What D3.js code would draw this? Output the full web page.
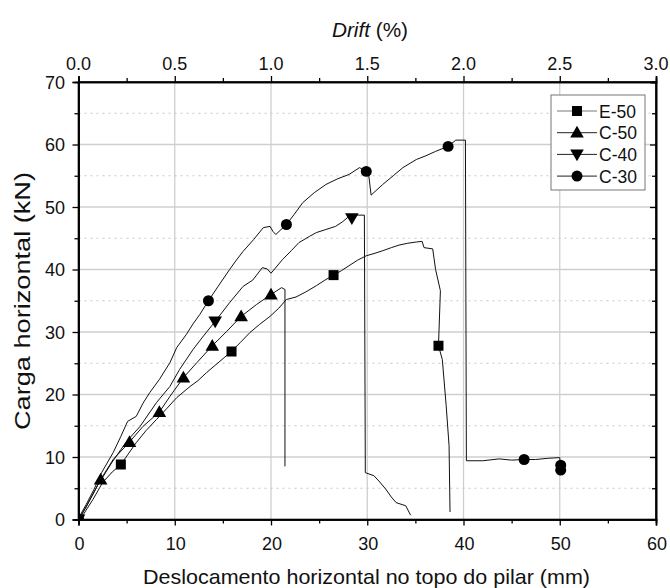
<!DOCTYPE html>
<html><head><meta charset="utf-8">
<script src="https://cdn.jsdelivr.net/npm/d3@7"></script>
<style>body{margin:0;background:#fff;} text{font-family:"Liberation Sans",Arial,sans-serif;}</style>
</head><body><svg id="c" width="670" height="588"></svg>
<script>
// Series data: [displacement mm, load kN]
const e50 = [[0,0],[0.5,0.8],[1.5,3.2],[2.5,5.9],[3.5,7.6],[4.4,8.8],[6,12.3],[7,14.2],[8.1,16],[9.2,17.8],[10.2,19.5],[11.6,21.3],[12.4,22.2],[13.3,23.5],[14.6,25.2],[15.9,26.9],[16.8,28.3],[17.8,29.9],[18.8,31.2],[19.9,32.5],[20.8,33.8],[21.6,35.2],[22.6,35.6],[23.6,36.4],[24.7,37.4],[25.6,38.3],[26.5,39.1],[27.3,39.8],[28.1,40.6],[29,41.5],[29.9,42.2],[30.8,42.6],[31.6,43],[32.5,43.5],[33.3,43.9],[34.2,44.2],[35.1,44.4],[35.7,44.5],[35.9,43.5],[36.8,43.3],[37.1,40],[37.6,36.6],[37.4,27.8],[37.8,25.6],[38.2,18.2],[38.5,11.8],[38.6,1.2]];
const c50 = [[0,0],[0.6,1.5],[1.4,3.8],[2.3,6.4],[3.6,9.6],[5.3,12.4],[6.7,14.9],[8.4,17.2],[9.5,19.7],[10.9,22.7],[12.3,25.1],[13.9,27.8],[15.4,30.1],[16.9,32.5],[18.5,34.4],[20,36],[20.6,36.6],[21.1,37.1],[21.45,36.8],[21.45,8.5]];
const c40 = [[0,0],[0.8,2],[2,5.5],[3.5,9.2],[5,12.5],[6.4,14.9],[8.1,18.7],[9.5,21.3],[10.5,24],[11.9,27.2],[13,29.4],[14.2,31.7],[15.7,34.7],[17.1,37.3],[18.1,38.3],[19.1,40.3],[19.6,40.1],[20,39.4],[21.2,41.6],[22.1,43],[22.9,44.3],[24,45.3],[24.7,45.9],[25.7,46.4],[26.7,46.9],[27.4,47.6],[28.1,48.5],[28.8,48.7],[29.7,48.7],[29.8,7.5],[30.7,7],[31.3,6],[31.9,4.9],[32.5,3.6],[33,2.7],[34,2.2],[34.5,0.7]];
const c30 = [[0,0.2],[0.8,2.4],[1.6,4.8],[2.4,7.5],[3.6,10.7],[4.4,13.3],[5.1,15.7],[6,16.5],[6.7,18.6],[7.4,20.3],[8.4,22.4],[9.5,25.1],[10.2,27.5],[11.2,29.6],[11.9,31.3],[12.6,32.8],[13.5,35],[14.5,37.3],[15.7,40],[16.4,41.5],[17.1,42.9],[18.2,44.8],[19.2,46.7],[19.9,46.9],[20.2,46.1],[20.5,45.6],[21.6,47.2],[22.4,48.8],[23.3,50.7],[24.5,52.3],[25.7,53.6],[26.9,54.5],[28.1,55.2],[29.2,56.3],[29.9,55.7],[30.1,55.8],[30.4,51.9],[31.6,53.6],[32.7,55],[33.7,56.3],[35.1,57.6],[36.1,58.2],[37.1,58.9],[38.4,59.7],[39.2,60.7],[40.2,60.7],[40.3,9.4],[42,9.4],[43.7,9.7],[45,9.5],[46.3,9.6],[47.5,9.6],[48.8,9.8],[50,9.9],[50.1,7.9]];
// marker positions
const e50M = [[0,0],[4.4,8.8],[15.9,26.9],[26.5,39.1],[37.4,27.8]];
const c50M = [[0,0],[2.3,6.4],[5.3,12.4],[8.4,17.2],[10.9,22.7],[13.9,27.8],[16.9,32.5],[20,36]];
const c40M = [[0,0],[14.2,31.7],[28.4,48.2]];
const c30M = [[0,0],[13.5,35],[21.6,47.2],[29.9,55.7],[38.4,59.7],[46.3,9.6],[50.1,8.7],[50.1,7.9]];
const seriesNames = ["E-50","C-50","C-40","C-30"];
const xTicks = [0,10,20,30,40,50,60];
const yTicks = [0,10,20,30,40,50,60,70];
const driftVals = [0,0.5,1,1.5,2,2.5,3];
const driftTicks = ["0.0","0.5","1.0","1.5","2.0","2.5","3.0"];

const svg = d3.select("#c");
const L=78.5,R=656,T=82,B=519.5;
const x = d3.scaleLinear().domain([0,60]).range([L,R]);
const y = d3.scaleLinear().domain([0,70]).range([B,T]);
const xd = d3.scaleLinear().domain([0,3]).range([L,R]);
function label(px,py,txt,size,anchor){
  return svg.append("text").attr("x",px).attr("y",py)
    .attr("text-anchor",anchor).attr("font-size",size).attr("fill","#111").text(txt);
}

// grid
const g = svg.append("g");
[10,20,30,40,50].forEach(v=>g.append("line").attr("x1",x(v)).attr("x2",x(v)).attr("y1",T).attr("y2",B).attr("stroke","#cfcfcf").attr("stroke-width",1.3));
[10,20,30,40,50,60].forEach(v=>g.append("line").attr("x1",L).attr("x2",R).attr("y1",y(v)).attr("y2",y(v)).attr("stroke","#cfcfcf").attr("stroke-width",1.3));
[5,15,25,35,45,55,65].forEach(v=>g.append("line").attr("x1",L).attr("x2",R).attr("y1",y(v)).attr("y2",y(v)).attr("stroke","#c8c8c8").attr("stroke-width",1.2).attr("stroke-dasharray","2,4"));

// clip
svg.append("clipPath").attr("id","clip").append("rect").attr("x",L).attr("y",T).attr("width",R-L).attr("height",B-T);
const plot = svg.append("g").attr("clip-path","url(#clip)");
const line = d3.line().x(d=>x(d[0])).y(d=>y(d[1]));
const data = [e50,c50,c40,c30];
const marks = [e50M,c50M,c40M,c30M];
const syms = [d3.symbolSquare, d3.symbolTriangle, d3.symbolTriangle, d3.symbolCircle];
const sizes = [100,80,80,95];
const rots = [0,0,180,0];
data.forEach((d,i)=>plot.append("path").attr("d",line(d)).attr("fill","none").attr("stroke","#111").attr("stroke-width",1));
marks.forEach((m,i)=>{
  plot.selectAll(null).data(m).enter().append("path")
   .attr("d",d3.symbol().type(syms[i]).size(sizes[i]))
   .attr("transform",d=>`translate(${x(d[0])},${y(d[1])+(i===1?1:(i===2?-1:0))}) rotate(${rots[i]})`)
   .attr("fill","#000");
});

// axes (ticks only; labels drawn separately)
const ax = svg.append("g");
ax.append("g").attr("transform",`translate(0,${B})`).call(d3.axisBottom(x).tickValues(xTicks).tickSize(6).tickFormat(""));
ax.append("g").attr("transform",`translate(0,${B})`).call(d3.axisBottom(x).tickValues([5,15,25,35,45,55]).tickSize(4).tickFormat(""));
ax.append("g").attr("transform",`translate(${L},0)`).call(d3.axisLeft(y).tickValues(yTicks).tickSize(6).tickFormat(""));
ax.append("g").attr("transform",`translate(${L},0)`).call(d3.axisLeft(y).tickValues([5,15,25,35,45,55,65]).tickSize(4).tickFormat(""));
ax.append("g").attr("transform",`translate(0,${T})`).call(d3.axisTop(xd).tickValues(driftVals).tickSize(6).tickFormat(""));
ax.append("g").attr("transform",`translate(0,${T})`).call(d3.axisTop(xd).tickValues([0.25,0.75,1.25,1.75,2.25,2.75]).tickSize(4).tickFormat(""));
ax.append("g").attr("transform",`translate(${R},0)`).call(d3.axisLeft(y).tickValues(yTicks).tickSize(6).tickFormat(""));
ax.append("g").attr("transform",`translate(${R},0)`).call(d3.axisLeft(y).tickValues([5,15,25,35,45,55,65]).tickSize(4).tickFormat(""));
ax.selectAll(".domain").attr("stroke","#000").attr("stroke-width",1.6);
ax.selectAll(".tick line").attr("stroke","#000").attr("stroke-width",1.3);
svg.append("rect").attr("x",L).attr("y",T).attr("width",R-L).attr("height",B-T).attr("fill","none").attr("stroke","#000").attr("stroke-width",1.6);

// tick labels
xTicks.forEach(v=>label(x(v)+1,550,String(v),18,"middle"));
yTicks.forEach(v=>label(65,y(v)+6.5,String(v),18,"end"));
driftVals.forEach((v,i)=>label(xd(v),70,driftTicks[i],18,"middle"));

// titles
svg.append("text").attr("x",366.5).attr("y",584).attr("text-anchor","middle").attr("font-size",21).attr("fill","#111")
  .attr("textLength",447).attr("lengthAdjust","spacingAndGlyphs").text("Deslocamento horizontal no topo do pilar (mm)");
svg.append("text").attr("transform","translate(30,301) rotate(-90)").attr("text-anchor","middle").attr("font-size",22).attr("fill","#111")
  .attr("textLength",258).attr("lengthAdjust","spacingAndGlyphs").text("Carga horizontal (kN)");
const tt = svg.append("text").attr("x",370).attr("y",37).attr("text-anchor","middle").attr("font-size",20).attr("fill","#111")
  .attr("textLength",76).attr("lengthAdjust","spacingAndGlyphs");
tt.append("tspan").attr("font-style","italic").text("Drift");
tt.append("tspan").text(" (%)");

// legend
const lg = svg.append("g");
lg.append("rect").attr("x",551).attr("y",95).attr("width",94).attr("height",95).attr("fill","#fff").attr("stroke","#777").attr("stroke-width",1);
seriesNames.forEach((n,i)=>{
  const yy = 111 + i*21.7;
  lg.append("line").attr("x1",557).attr("x2",597).attr("y1",yy).attr("y2",yy).attr("stroke",i===0?"#777":"#222").attr("stroke-width",1);
  lg.append("path").attr("d",d3.symbol().type(syms[i]).size(sizes[i])).attr("transform",`translate(577,${yy+(i===1?1:(i===2?-1:0))}) rotate(${rots[i]})`).attr("fill","#000");
  lg.append("text").attr("x",599).attr("y",yy+6.5).attr("font-size",17.5).attr("fill","#111").text(n);
});
</script></body></html>
